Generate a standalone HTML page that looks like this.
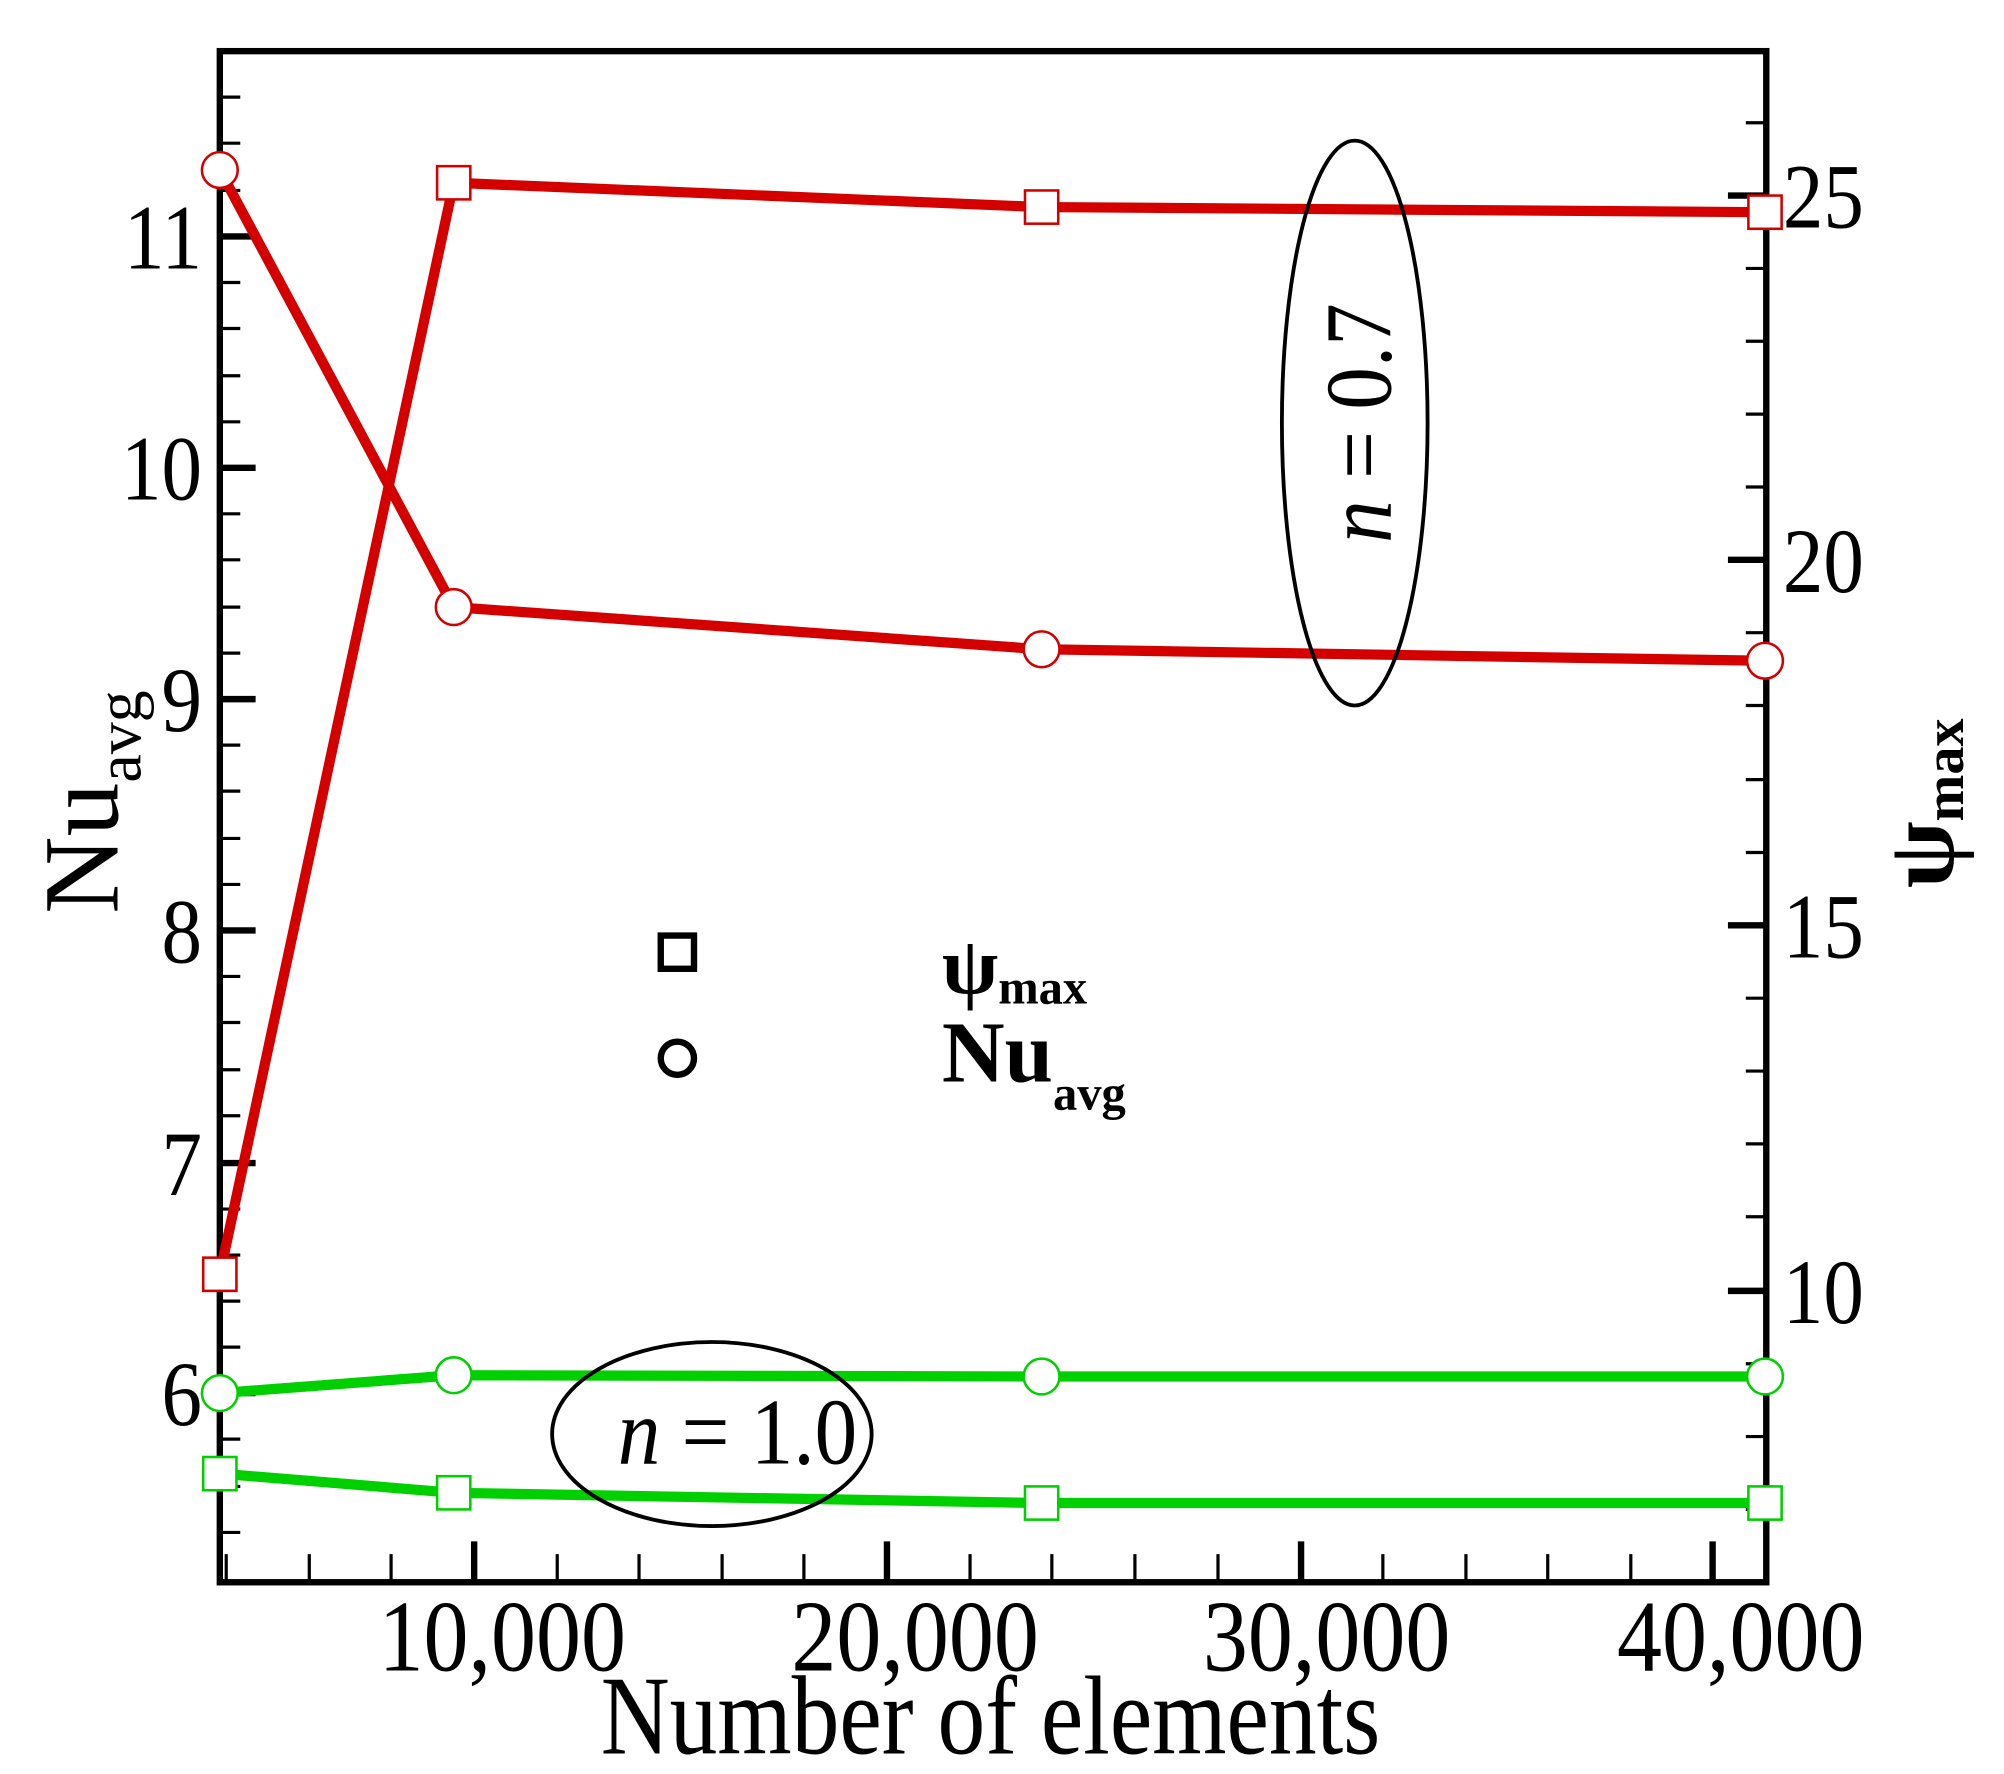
<!DOCTYPE html>
<html><head><meta charset="utf-8"><style>
html,body{margin:0;padding:0;background:#fff;}
svg{display:block;}
text{font-family:"Liberation Serif",serif;fill:#000;}
</style></head><body>
<svg width="2004" height="1774" viewBox="0 0 1568 1388" xmlns="http://www.w3.org/2000/svg">
<rect width="1568" height="1388" fill="#fff"/>
<g stroke="#000" stroke-width="2.5">
<path d="M172 76h16M172 112h16M172 149h16M172 221h16M172 257h16M172 294h16M172 330h16M172 402h16M172 438h16M172 475h16M172 511h16M172 583h16M172 619h16M172 656h16M172 692h16M172 764h16M172 800h16M172 837h16M172 873h16M172 946h16M172 982h16M172 1018h16M172 1054h16M172 1126h16M172 1163h16M172 1199h16"/>
<path d="M1382 96h-16M1382 210h-16M1382 267h-16M1382 324h-16M1382 381h-16M1382 495h-16M1382 552h-16M1382 610h-16M1382 667h-16M1382 781h-16M1382 838h-16M1382 895h-16M1382 952h-16M1382 1067h-16M1382 1124h-16M1382 1181h-16"/>
<path d="M177 1238v-22M242 1238v-22M306 1238v-22M436 1238v-22M500 1238v-22M565 1238v-22M629 1238v-22M759 1238v-22M823 1238v-22M888 1238v-22M953 1238v-22M1082 1238v-22M1147 1238v-22M1211 1238v-22M1276 1238v-22"/>
</g>
<g stroke="#000" stroke-width="5">
<path d="M172 185h28M172 366h28M172 547h28M172 728h28M172 910h28M172 1090h28"/>
<path d="M1382 153h-30M1382 438h-30M1382 724h-30M1382 1010h-30"/>
<path d="M371 1238v-32M694 1238v-32M1018 1238v-32M1340 1238v-32"/>
</g>
<rect x="172" y="40" width="1210" height="1198" fill="none" stroke="#000" stroke-width="5"/>
<g fill="none" stroke-width="8" stroke-linejoin="round">
<polyline stroke="#d40000" points="172,133 355,475 815,508 1381,517"/>
<polyline stroke="#d40000" points="172,997 355,143 815,162 1381,166"/>
<polyline stroke="#00d000" points="172,1090 355,1076 815,1077 1381,1077"/>
<polyline stroke="#00d000" points="172,1153 355,1168 815,1176 1381,1176"/>
</g>
<g fill="#fff" stroke-width="2">
<g stroke="#d40000">
<circle cx="172" cy="133" r="14"/><circle cx="355" cy="475" r="14"/><circle cx="815" cy="508" r="14"/><circle cx="1381" cy="517" r="14"/>
<rect x="159" y="984" width="26" height="26"/><rect x="342" y="130" width="26" height="26"/><rect x="802" y="149" width="26" height="26"/><rect x="1368" y="153" width="26" height="26"/>
</g>
<g stroke="#00d000">
<circle cx="172" cy="1090" r="14"/><circle cx="355" cy="1076" r="14"/><circle cx="815" cy="1077" r="14"/><circle cx="1381" cy="1077" r="14"/>
<rect x="159" y="1140" width="26" height="26"/><rect x="342" y="1155" width="26" height="26"/><rect x="802" y="1163" width="26" height="26"/><rect x="1368" y="1163" width="26" height="26"/>
</g>
</g>
<ellipse cx="1060" cy="331" rx="57" ry="221" fill="none" stroke="#000" stroke-width="3"/>
<ellipse cx="557" cy="1122" rx="125" ry="72" fill="none" stroke="#000" stroke-width="3"/>
<text transform="translate(1088,331) rotate(-90) scale(0.9,1)" font-size="74" text-anchor="middle"><tspan font-style="italic">n</tspan> = 0.7</text>
<text transform="translate(577,1145) scale(0.9,1)" font-size="74" text-anchor="middle"><tspan font-style="italic">n</tspan> = 1.0</text>
<rect x="517" y="732" width="26" height="26" fill="none" stroke="#000" stroke-width="5"/>
<circle cx="530" cy="828" r="13" fill="none" stroke="#000" stroke-width="5"/>
<text x="737" y="777" font-size="64" font-weight="bold">ψ<tspan font-size="38" dy="8">max</tspan></text>
<text x="737" y="846" font-size="68" font-weight="bold">Nu<tspan font-size="38" dy="22">avg</tspan></text>
<g transform="translate(158,0) scale(0.88,1)" font-size="72" text-anchor="end">
<text x="0" y="210">11</text><text x="0" y="391">10</text><text x="0" y="572">9</text>
<text x="0" y="753">8</text><text x="0" y="935">7</text><text x="0" y="1115">6</text>
</g>
<g transform="translate(1395,0) scale(0.88,1)" font-size="72" text-anchor="start">
<text x="0" y="178">25</text><text x="0" y="463">20</text><text x="0" y="749">15</text><text x="0" y="1035">10</text>
</g>
<g font-size="80" text-anchor="middle">
<text transform="translate(393,1307) scale(0.88,1)">10,000</text>
<text transform="translate(716,1307) scale(0.88,1)">20,000</text>
<text transform="translate(1038,1307) scale(0.88,1)">30,000</text>
<text transform="translate(1362,1307) scale(0.88,1)">40,000</text>
</g>
<text x="775" y="1372" font-size="88" text-anchor="middle" textLength="610" lengthAdjust="spacingAndGlyphs">Number of elements</text>
<text transform="translate(92,715) rotate(-90)" font-size="84">Nu<tspan font-size="50" dy="18">avg</tspan></text>
<text transform="translate(1528,695) rotate(-90)" font-size="76" font-weight="bold">ψ<tspan font-size="44" dy="8">max</tspan></text>
</svg>
</body></html>
